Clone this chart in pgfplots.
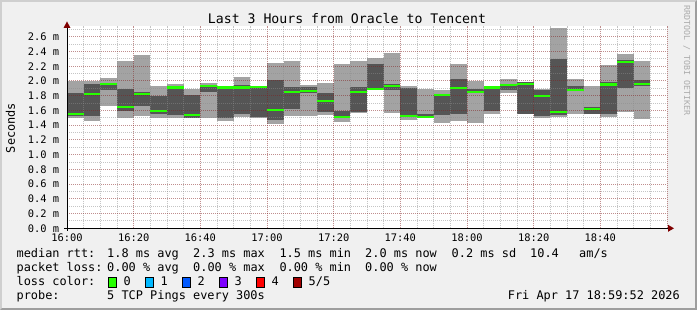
\documentclass[border=0pt]{standalone}
\usepackage{pgfplots}
\pgfplotsset{compat=1.18}
\usepackage{pgfplotstable}
\usepackage{fontspec}
\newfontfamily\mono{DejaVu Sans Mono}
\definecolor{bgc}{HTML}{F0F0F0}
\definecolor{shadea}{HTML}{CFCFCF}
\definecolor{shadeb}{HTML}{9E9E9E}
\definecolor{smokelight}{HTML}{A3A3A3}
\definecolor{smokedark}{HTML}{555555}
\definecolor{medgreen}{HTML}{26FF00}
\definecolor{gridc}{HTML}{8C8C8C}
\definecolor{mgridc}{HTML}{821E1E}
\definecolor{arrowc}{HTML}{7F0000}
\definecolor{wmark}{HTML}{ABABAB}
\definecolor{lc0}{HTML}{26FF00}
\definecolor{lc1}{HTML}{00B8FF}
\definecolor{lc2}{HTML}{0059FF}
\definecolor{lc3}{HTML}{7E00FF}
\definecolor{lc4}{HTML}{FF0000}
\definecolor{lc5}{HTML}{A10000}

% x = minutes after 16:00 (bin centre), lo/hi = outer smoke, q1/q3 = inner smoke, med = median rtt (ms)
\pgfplotstableread{
x lo q1 q3 hi med
2.5 1.500 1.520 1.830 2.000 1.555
7.5 1.456 1.520 1.960 2.000 1.820
12.5 1.660 1.870 1.976 2.040 1.960
17.5 1.490 1.596 1.895 2.274 1.650
22.5 1.520 1.660 1.850 2.356 1.826
27.5 1.500 1.550 1.795 1.930 1.590
32.5 1.490 1.540 1.935 1.956 1.910
37.5 1.490 1.500 1.810 1.886 1.537
42.5 1.490 1.850 1.950 1.970 1.930
47.5 1.456 1.490 1.920 1.925 1.910
52.5 1.514 1.550 1.945 2.050 1.910
57.5 1.500 1.510 1.935 1.935 1.917
62.5 1.420 1.474 2.012 2.245 1.610
67.5 1.530 1.614 1.915 2.274 1.853
72.5 1.524 1.835 1.913 1.940 1.865
77.5 1.537 1.582 1.835 1.976 1.728
82.5 1.447 1.490 1.596 2.230 1.514
87.5 1.560 1.582 1.915 2.272 1.853
92.5 1.880 1.890 2.230 2.310 1.890
97.5 1.568 1.877 1.954 2.385 1.933
102.5 1.470 1.510 1.900 1.930 1.528
107.5 1.505 1.505 1.550 1.892 1.514
112.5 1.433 1.537 1.826 1.870 1.809
117.5 1.460 1.547 2.028 2.230 1.908
122.5 1.433 1.840 1.886 2.002 1.851
127.5 1.555 1.590 1.915 1.915 1.910
132.5 1.840 1.877 1.958 2.026 1.940
137.5 1.550 1.550 1.980 1.988 1.962
142.5 1.500 1.524 1.877 1.886 1.798
147.5 1.514 1.537 2.297 2.718 1.582
152.5 1.555 1.860 1.930 2.026 1.872
157.5 1.547 1.547 1.640 1.930 1.623
162.5 1.506 1.555 1.990 2.216 1.950
167.5 1.582 1.908 2.284 2.365 2.260
172.5 1.487 1.930 2.012 2.270 1.958
}\smoke

\newcommand{\legfont}{\mono\fontsize{11.9}{14}\selectfont}
\newcommand{\axfont}{\mono\fontsize{10.4}{12}\selectfont}

\begin{document}
\begin{tikzpicture}[x=1pt,y=1pt]
\useasboundingbox (0,0) rectangle (697,310);
\fill[shadeb] (0,0) rectangle (697,310);
\fill[shadea] (0,0) -- (0,310) -- (697,310) -- (695,308) -- (2,308) -- (2,2) -- cycle;
\fill[bgc] (2,2) rectangle (695,308);

\begin{axis}[
  at={(67pt,81.7pt)}, anchor=south west,
  scale only axis, width=600pt, height=202.3pt,
  xmin=0, xmax=180, ymin=0, ymax=2.745,
  axis background/.style={fill=white},
  axis line style={draw=none},
  tick style={draw=none},
  axis on top,
  xtick={0,20,40,60,80,100,120,140,160,180},
  minor xtick={5,10,15,25,30,35,45,50,55,65,70,75,85,90,95,105,110,115,125,130,135,145,150,155,165,170,175},
  xticklabels={16:00,16:20,16:40,17:00,17:20,17:40,18:00,18:20,18:40,{}},
  ytick={0,0.2,0.4,0.6,0.8,1.0,1.2,1.4,1.6,1.8,2.0,2.2,2.4,2.6},
  minor ytick={0.1,0.3,0.5,0.7,0.9,1.1,1.3,1.5,1.7,1.9,2.1,2.3,2.5,2.7},
  yticklabels={0.0 m,0.2 m,0.4 m,0.6 m,0.8 m,1.0 m,1.2 m,1.4 m,1.6 m,1.8 m,2.0 m,2.2 m,2.4 m,2.6 m},
  yticklabel style={font=\axfont, inner sep=0pt, anchor=east, xshift=-7.7pt},
  xticklabel style={font=\axfont, inner sep=0pt, anchor=north, yshift=-5.7pt},
  grid=both,
  major grid style={draw=mgridc, draw opacity=0.5, line width=0.9pt, dash pattern=on 1pt off 1pt},
  minor grid style={draw=gridc, draw opacity=0.5, line width=0.9pt, dash pattern=on 1pt off 1pt},
]
% outer smoke (light)
\addplot[draw=none, mark=none, forget plot,
  error bars/.cd, y dir=plus, y explicit, error mark=none,
  error bar style={line width=16.667pt, draw=smokelight}]
  table[x=x, y=lo, y error expr=\thisrow{hi}-\thisrow{lo}] {\smoke};
% inner smoke (dark)
\addplot[draw=none, mark=none, forget plot,
  error bars/.cd, y dir=plus, y explicit, error mark=none,
  error bar style={line width=16.667pt, draw=smokedark}]
  table[x=x, y=q1, y error expr=\thisrow{q3}-\thisrow{q1}] {\smoke};
% median rtt
\addplot[only marks, mark=-, mark size=8.333pt, forget plot,
  mark options={line width=2.2pt, draw=medgreen}]
  table[x=x, y=med] {\smoke};
\end{axis}

% axes with arrows
\draw[black, line width=1pt] (64,81.7) -- (668,81.7);
\fill[arrowc] (668,78.2) -- (674,81.7) -- (668,85.2) -- cycle;
\draw[black, line width=1pt] (67,79) -- (67,283);
\fill[arrowc] (63.5,282) -- (67,288.5) -- (70.5,282) -- cycle;

% title
\node[anchor=base, inner sep=0pt] at (347,286.7) {\mono\fontsize{13.2}{15}\selectfont Last 3 Hours from Oracle to Tencent};
% y label
\node[rotate=90, anchor=base, inner sep=0pt] at (15,182) {\legfont Seconds};
% watermark
\node[rotate=-90, anchor=west, inner sep=0pt, text=wmark] at (686.7,305) {\mono\fontsize{8.3}{10}\selectfont RRDTOOL / TOBI OETIKER};

% legend
\begin{scope}[every node/.style={anchor=base west, inner sep=0pt}]
\node at (16.4,52.3) {\legfont median rtt:};
\node at (107,52.3) {\legfont 1.8 ms avg};
\node at (193,52.3) {\legfont 2.3 ms max};
\node at (279.3,52.3) {\legfont 1.5 ms min};
\node at (365,52.3) {\legfont 2.0 ms now};
\node at (451.5,52.3) {\legfont 0.2 ms sd};
\node at (530,52.3) {\legfont 10.4};
\node at (579,52.3) {\legfont am/s};

\node at (16.4,38.3) {\legfont packet loss:};
\node at (107,38.3) {\legfont 0.00 \% avg};
\node at (193,38.3) {\legfont 0.00 \% max};
\node at (279.3,38.3) {\legfont 0.00 \% min};
\node at (365,38.3) {\legfont 0.00 \% now};

\node at (16.4,24.3) {\legfont loss color:};
\node at (123.5,24.3) {\legfont 0};
\node at (160.5,24.3) {\legfont 1};
\node at (197.5,24.3) {\legfont 2};
\node at (234.5,24.3) {\legfont 3};
\node at (271.5,24.3) {\legfont 4};
\node at (308.5,24.3) {\legfont 5/5};

\node at (16.4,10.5) {\legfont probe:};
\node at (107,10.5) {\legfont 5 TCP Pings every 300s};
\end{scope}
\node[anchor=base east, inner sep=0pt] at (680,10.5) {\legfont Fri Apr 17 18:59:52 2026};

\foreach \xx/\cc in {108.5/lc0,145.5/lc1,182.5/lc2,219.5/lc3,256.5/lc4,293.5/lc5}{
  \filldraw[fill=\cc, draw=black, line width=0.8pt] (\xx,23) rectangle ++(7.5,9.5);
}
\end{tikzpicture}
\end{document}
